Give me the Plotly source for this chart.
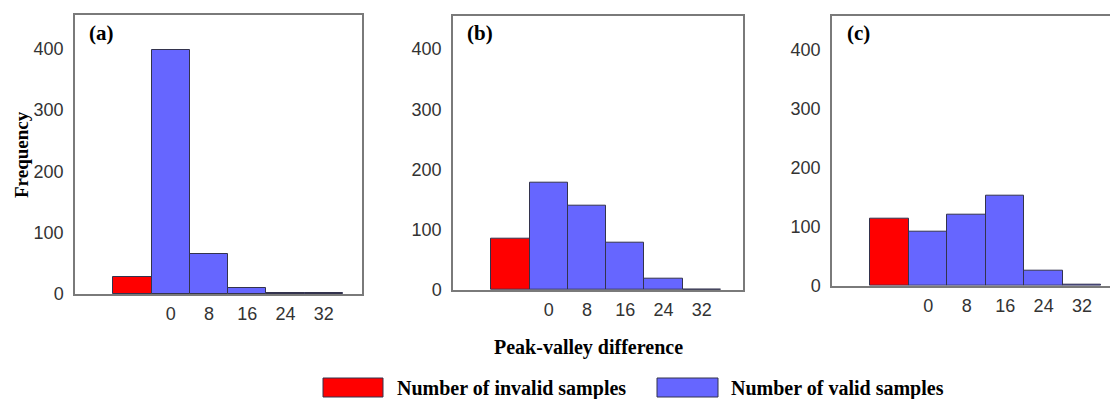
import plotly.graph_objects as go

# ---- data ----
panel_labels = ["(a)", "(b)", "(c)"]
invalid_x = [-8]
valid_x = [0, 8, 16, 24, 32]
tick_vals = [0, 8, 16, 24, 32]
tick_text = ["0", "8", "16", "24", "32"]
y_ticks = [0, 100, 200, 300, 400]

invalid_a = [28]
valid_a = [398, 66, 10, 1, 1]
invalid_b = [85]
valid_b = [178, 140, 79, 18, 1]
invalid_c = [114]
valid_c = [91, 121, 153, 25, 2]

RED = "#ff0000"
BLUE = "#6666ff"
EDGE = "#33334d"
AXC = "#7a7a7a"
TXT = "#333333"

fig = go.Figure()
panels = [(invalid_a, valid_a), (invalid_b, valid_b), (invalid_c, valid_c)]
for i, (inv, val) in enumerate(panels):
    sfx = "" if i == 0 else str(i + 1)
    fig.add_trace(go.Bar(x=invalid_x, y=inv, width=8, marker=dict(color=RED, line=dict(color=EDGE, width=1)),
                         xaxis="x" + sfx, yaxis="y" + sfx, showlegend=False, name="Number of invalid samples"))
    fig.add_trace(go.Bar(x=valid_x, y=val, width=8, marker=dict(color=BLUE, line=dict(color=EDGE, width=1)),
                         xaxis="x" + sfx, yaxis="y" + sfx, showlegend=False, name="Number of valid samples"))

W, H = 1110, 409
RH = 399.0  # reference-pixel frame used for positioning (paper fractions)
xdom = [(75, 362), (453, 743), (832, 1110)]
ybot = [294, 290, 285.7]
ytop = [15, 15.7, 15.7]
xr = [[-20, 40], [-20, 40.6], [-20, 37.8]]
yr = [[0, 455], [0, 455.5], [0, 457]]

def py(v):
    return 1 - v / RH

layout = dict(width=W, height=H, autosize=False, margin=dict(l=0, r=0, t=0, b=0, pad=0),
              plot_bgcolor="white", paper_bgcolor="white", bargap=0,
              font=dict(family="Liberation Sans, Arial", color=TXT))
for i in range(3):
    sfx = "" if i == 0 else str(i + 1)
    layout["xaxis" + sfx] = dict(
        domain=[xdom[i][0] / W, xdom[i][1] / W], range=xr[i], anchor="y" + sfx,
        tickvals=tick_vals, ticktext=tick_text, ticks="", showgrid=False, zeroline=False,
        showline=True, linecolor=AXC, linewidth=1.5, mirror=True,
        tickfont=dict(size=18, color=TXT), ticklabelstandoff=3)
    layout["yaxis" + sfx] = dict(
        domain=[py(ybot[i]), py(ytop[i])], range=yr[i], anchor="x" + sfx,
        tickvals=y_ticks, ticks="", showgrid=False, zeroline=False,
        showline=True, linecolor=AXC, linewidth=1.5, mirror=(i < 2),
        tickfont=dict(size=18, color=TXT), ticklabelstandoff=6)
fig.update_layout(**layout)

serif = "Liberation Serif, Times New Roman"
# panel labels
label_x = [87, 465, 845]
for i, lab in enumerate(panel_labels):
    fig.add_annotation(text="<b>%s</b>" % lab, x=label_x[i] / W, y=py(33), xref="paper", yref="paper",
                       xanchor="left", yanchor="middle", showarrow=False,
                       font=dict(family=serif, size=21, color="black"))

fig.add_annotation(text="<b>Frequency</b>", x=21 / W, y=py(155), xref="paper", yref="paper",
                   textangle=-90, showarrow=False, xanchor="center", yanchor="middle",
                   font=dict(family=serif, size=19, color="black"))
fig.add_annotation(text="<b>Peak-valley difference</b>", x=588 / W, y=py(347), xref="paper", yref="paper",
                   showarrow=False, xanchor="center", yanchor="middle",
                   font=dict(family=serif, size=20, color="black"))

# custom legend
leg = [("Number of invalid samples", RED, 323, 383, 395), ("Number of valid samples", BLUE, 657, 718, 729)]
for text, col, x0, x1, tx in leg:
    fig.add_shape(type="rect", xref="paper", yref="paper", x0=x0 / W, x1=x1 / W,
                  y0=py(397), y1=py(378), fillcolor=col, line=dict(color=EDGE, width=1))
    fig.add_annotation(text="<b>%s</b>" % text, x=tx / W, y=py(388), xref="paper", yref="paper",
                       showarrow=False, xanchor="left", yanchor="middle",
                       font=dict(family=serif, size=20, color="black"))

fig.write_html("out.html")
